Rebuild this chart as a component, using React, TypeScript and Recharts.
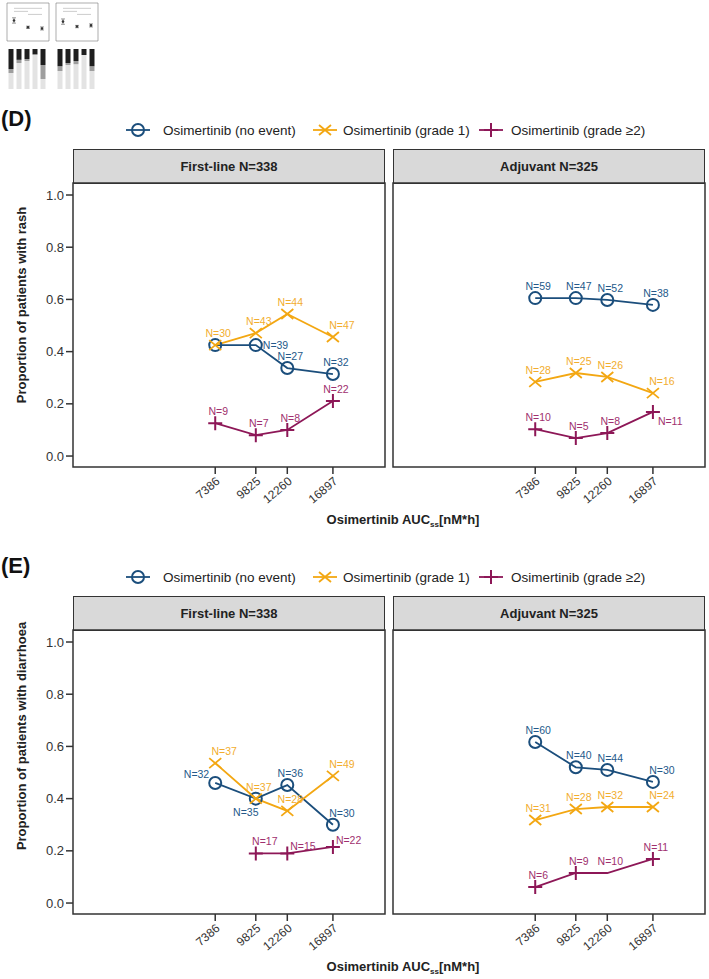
import React from "react";
import {
  LineChart,
  Line,
  XAxis,
  YAxis,
  ReferenceArea,
  ReferenceLine,
  LabelList,
  ComposedChart,
  Scatter,
  ErrorBar,
  BarChart,
  Bar,
} from "recharts";

// AUCss quartile medians (x axis, log scale)
const AUC_TICKS = [7386, 9825, 12260, 16897];
const AUC_DOMAIN = [2717, 24370];
const Y_DOMAIN = [-0.042, 1.046];
const Y_TICKS = [0, 0.2, 0.4, 0.6, 0.8, 1.0];

// (D) rash, first-line
const rashFirstNoEvent = [0.425, 0.425, 0.337, 0.314];
const rashFirstGrade1 = [0.425, 0.471, 0.544, 0.456];
const rashFirstGrade2 = [0.126, 0.08, 0.1, 0.211];
const rashFirstNNoEvent = [30, 39, 27, 32];
const rashFirstNGrade1 = [30, 43, 44, 47];
const rashFirstNGrade2 = [9, 7, 8, 22];

// (D) rash, adjuvant
const rashAdjNoEvent = [0.605, 0.605, 0.598, 0.579];
const rashAdjGrade1 = [0.284, 0.318, 0.303, 0.241];
const rashAdjGrade2 = [0.103, 0.069, 0.088, 0.169];
const rashAdjNNoEvent = [59, 47, 52, 38];
const rashAdjNGrade1 = [28, 25, 26, 16];
const rashAdjNGrade2 = [10, 5, 8, 11];

// (E) diarrhoea, first-line
const diaFirstNoEvent = [0.46, 0.4, 0.452, 0.3];
const diaFirstGrade1 = [0.536, 0.4, 0.353, 0.487];
const diaFirstGrade2 = [null, 0.19, 0.19, 0.215];
const diaFirstNNoEvent = [32, 35, 36, 30];
const diaFirstNGrade1 = [37, 37, 28, 49];
const diaFirstNGrade2 = [null, 17, 15, 22];

// (E) diarrhoea, adjuvant
const diaAdjNoEvent = [0.617, 0.52, 0.51, 0.464];
const diaAdjGrade1 = [0.318, 0.36, 0.368, 0.368];
const diaAdjGrade2 = [0.061, 0.115, 0.115, 0.169];
const diaAdjNNoEvent = [60, 40, 44, 30];
const diaAdjNGrade1 = [31, 28, 32, 24];
const diaAdjNGrade2 = [6, 9, 10, 11];

// thumbnail of panels A-C (too small to read)
const thumbGroups = [1, 2, 3];
const thumbLeftMean = [0.54, 0.36, 0.33];
const thumbRightMean = [0.51, 0.38, 0.41];
const thumbErr = [0.07, 0.03, 0.04];
const thumbBars = [1, 2, 3, 4, 5];
const thumbLeftLow = [0.4, 0.65, 0.7, 0.85, 0.25];
const thumbLeftMid = [0.1, 0.08, 0.05, 0.02, 0.35];
const thumbLeftHigh = [0.5, 0.27, 0.25, 0.13, 0.4];
const thumbRightLow = [0.45, 0.6, 0.62, 0.85, 0.45];
const thumbRightMid = [0.12, 0.05, 0.08, 0.0, 0.12];
const thumbRightHigh = [0.43, 0.35, 0.3, 0.15, 0.43];

// label placement per point (style only); "-" = label not shown, marker kept
const rashFirstPlace = { noEvent: ["-", "r", "t", "t"], grade1: ["t", "t", "t", "tr"], grade2: ["t", "t", "t", "t"] };
const rashAdjPlace = { noEvent: ["t", "t", "t", "t"], grade1: ["t", "t", "t", "tr"], grade2: ["t", "t", "t", "br"] };
const diaFirstPlace = { noEvent: ["tl", "bl", "t", "tr"], grade1: ["tr", "t", "t", "tr"], grade2: ["t", "tr", "rt", "rt"] };
const diaAdjPlace = { noEvent: ["t", "t", "t", "tr"], grade1: ["t", "t", "t", "tr"], grade2: ["t", "t", "t", "t"] };
// points drawn without a marker in the original
const diaAdjNoMarker = { grade2: [2] };

const FONT = "'Liberation Sans', Arial, Helvetica, sans-serif";
const INK = "#333";

const SERIES = [
  { key: "noEvent", nKey: "nNoEvent", name: "Osimertinib (no event)", color: "#1b4e7c", text: "#24598a", marker: "circle" },
  { key: "grade1", nKey: "nGrade1", name: "Osimertinib (grade 1)", color: "#f3a712", text: "#f2ad2e", marker: "x" },
  { key: "grade2", nKey: "nGrade2", name: "Osimertinib (grade \u22652)", color: "#8d1757", text: "#a0306e", marker: "plus" },
];

const PLACE: Record<string, { dx: number; dy: number; anchor: string }> = {
  t: { dx: 3, dy: -8, anchor: "middle" },
  tr: { dx: 9, dy: -8, anchor: "middle" },
  r: { dx: 7, dy: 4, anchor: "start" },
  rt: { dx: 3, dy: -3, anchor: "start" },
  br: { dx: 5, dy: 13, anchor: "start" },
  bl: { dx: -10, dy: 17, anchor: "middle" },
  tl: { dx: -6, dy: -5, anchor: "end" },
};

function buildRows(noEvent, grade1, grade2, nNoEvent, nGrade1, nGrade2) {
  return AUC_TICKS.map((auc, i) => ({
    auc,
    noEvent: noEvent[i],
    grade1: grade1[i],
    grade2: grade2[i],
    nNoEvent: nNoEvent[i],
    nGrade1: nGrade1[i],
    nGrade2: nGrade2[i],
  }));
}

function Marker({ cx, cy, kind, color }) {
  if (cx == null || cy == null) return null;
  if (kind === "circle") {
    return <circle cx={cx} cy={cy} r={6} fill="none" stroke={color} strokeWidth={2} />;
  }
  if (kind === "x") {
    return (
      <path
        d={`M${cx - 6},${cy - 5}L${cx + 6},${cy + 5}M${cx - 6},${cy + 5}L${cx + 6},${cy - 5}`}
        stroke={color}
        strokeWidth={1.8}
        fill="none"
      />
    );
  }
  return (
    <path
      d={`M${cx - 7},${cy}L${cx + 7},${cy}M${cx},${cy - 7}L${cx},${cy + 7}`}
      stroke={color}
      strokeWidth={2}
      fill="none"
    />
  );
}

const PLOT_W = 312;
const PLOT_H = 284;
const HEADER_H = 34;

function Facet({ plotLeft, plotTop, title, rows, place, noMarker = {}, showY }) {
  const yW = showY ? 71 : 0;
  const chartLeft = plotLeft - yW - 2;
  return (
    <>
      <div
        style={{
          position: "absolute",
          left: plotLeft,
          top: plotTop - HEADER_H,
          width: PLOT_W,
          height: HEADER_H + 1,
          boxSizing: "border-box",
          border: `1.5px solid ${INK}`,
          background: "#d9d9d9",
          display: "flex",
          alignItems: "center",
          justifyContent: "center",
          fontWeight: "bold",
          fontSize: 13,
          color: "#222",
        }}
      >
        {title}
      </div>
      <div style={{ position: "absolute", left: chartLeft, top: plotTop - 2 }}>
        <LineChart
          width={yW + 2 + PLOT_W + 4}
          height={2 + PLOT_H + 70}
          data={rows}
          margin={{ top: 2, right: 4, left: 2, bottom: 0 }}
        >
          <XAxis
            dataKey="auc"
            type="number"
            scale="log"
            domain={AUC_DOMAIN}
            allowDataOverflow
            ticks={AUC_TICKS}
            interval={0}
            height={70}
            axisLine={false}
            tickSize={7}
            tickLine={{ stroke: INK, strokeWidth: 1.5 }}
            angle={-40}
            textAnchor="end"
            tick={{ fontSize: 12, fill: INK, fontFamily: FONT }}
          />
          <YAxis
            type="number"
            domain={Y_DOMAIN}
            allowDataOverflow
            ticks={Y_TICKS}
            tickFormatter={(v) => Number(v).toFixed(1)}
            width={yW}
            hide={!showY}
            axisLine={false}
            tickSize={7}
            tickLine={{ stroke: INK, strokeWidth: 1.5 }}
            tick={{ fontSize: 13, fill: INK, fontFamily: FONT }}
          />
          <ReferenceArea
            x1={AUC_DOMAIN[0]}
            x2={AUC_DOMAIN[1]}
            y1={Y_DOMAIN[0]}
            y2={Y_DOMAIN[1]}
            fill="none"
            stroke={INK}
            strokeWidth={1.5}
            ifOverflow="visible"
          />
          {SERIES.map((s) => (
            <Line
              key={s.key}
              dataKey={s.key}
              stroke={s.color}
              strokeWidth={1.8}
              isAnimationActive={false}
              activeDot={false}
              dot={(p) =>
                (noMarker[s.key] || []).includes(p.index) ? (
                  <g key={`${s.key}-${p.index}`} />
                ) : (
                  <Marker key={`${s.key}-${p.index}`} cx={p.cx} cy={p.cy} kind={s.marker} color={s.color} />
                )
              }
            >
              <LabelList
                dataKey={s.nKey}
                content={(p) => {
                  if (p.value == null || p.x == null) return null;
                  const key = place[s.key][p.index];
                  if (key === "-") return null;
                  const pl = PLACE[key] || PLACE.t;
                  return (
                    <text
                      x={Number(p.x) + pl.dx}
                      y={Number(p.y) + pl.dy}
                      textAnchor={pl.anchor}
                      fontSize={10.5}
                      fontFamily={FONT}
                      fill={s.text}
                    >
                      {`N=${p.value}`}
                    </text>
                  );
                }}
              />
            </Line>
          ))}
        </LineChart>
      </div>
    </>
  );
}

function LegendRow({ top }) {
  const items = [
    { s: SERIES[0], icon: 138, text: 163 },
    { s: SERIES[1], icon: 325, text: 343 },
    { s: SERIES[2], icon: 491, text: 511 },
  ];
  return (
    <svg style={{ position: "absolute", left: 0, top: top - 10 }} width={709} height={20}>
      {items.map(({ s, icon, text }) => (
        <g key={s.key}>
          <line x1={icon - 12} x2={icon + 12} y1={10} y2={10} stroke={s.color} strokeWidth={1.8} />
          <Marker cx={icon} cy={10} kind={s.marker} color={s.color} />
          <text x={text} y={14.5} fontSize={13.5} fontFamily={FONT} fill="#222">
            {s.name}
          </text>
        </g>
      ))}
    </svg>
  );
}

function Block({ offset, label, yLabel, yLabelY, first, adj, placeFirst, placeAdj, noMarkerAdj }) {
  const plotTop = 183 + offset;
  return (
    <>
      <div
        style={{ position: "absolute", left: 1, top: 106 + offset, fontSize: 22, fontWeight: "bold", color: "#111" }}
      >
        {label}
      </div>
      <LegendRow top={130 + offset} />
      <Facet plotLeft={73} plotTop={plotTop} title="First-line N=338" rows={first} place={placeFirst} showY />
      <Facet
        plotLeft={393}
        plotTop={plotTop}
        title="Adjuvant N=325"
        rows={adj}
        place={placeAdj}
        noMarker={noMarkerAdj}
        showY={false}
      />
      <svg style={{ position: "absolute", left: 0, top: 0, pointerEvents: "none" }} width={709} height={979}>
        <text
          transform={`translate(26, ${yLabelY + offset}) rotate(-90)`}
          textAnchor="middle"
          fontSize={13}
          fontWeight="bold"
          fontFamily={FONT}
          fill="#222"
        >
          {yLabel}
        </text>
        <text x={403} y={524 + offset} textAnchor="middle" fontSize={13} fontWeight="bold" fontFamily={FONT} fill="#222">
          Osimertinib AUC
          <tspan fontSize={8} dy={3}>ss</tspan>
          <tspan dy={-3}>[nM*h]</tspan>
        </text>
      </svg>
    </>
  );
}

function ThumbScatter({ left, means }) {
  const rows = thumbGroups.map((g, i) => ({ g, m: means[i], err: thumbErr[i] }));
  return (
    <div style={{ position: "absolute", left, top: 2 }}>
      <ComposedChart width={44} height={40} data={rows} margin={{ top: 1, right: 1, left: 1, bottom: 1 }}>
        <XAxis dataKey="g" type="number" domain={[0.5, 3.5]} hide />
        <YAxis type="number" domain={[0, 1]} hide />
        <ReferenceArea x1={0.5} x2={3.5} y1={0} y2={1} fill="none" stroke="#777" strokeWidth={0.6} ifOverflow="visible" />
        <ReferenceLine segment={[{ x: 1, y: 0.78 }, { x: 2, y: 0.78 }]} stroke="#999" strokeWidth={0.5} />
        <ReferenceLine segment={[{ x: 1, y: 0.86 }, { x: 3, y: 0.86 }]} stroke="#999" strokeWidth={0.5} />
        <ReferenceLine segment={[{ x: 2, y: 0.7 }, { x: 3, y: 0.7 }]} stroke="#999" strokeWidth={0.5} />
        <Scatter
          dataKey="m"
          isAnimationActive={false}
          shape={(p) => <circle cx={p.cx} cy={p.cy} r={1.3} fill="#333" />}
        >
          <ErrorBar dataKey="err" direction="y" width={2} stroke="#555" strokeWidth={0.6} />
        </Scatter>
      </ComposedChart>
    </div>
  );
}

function ThumbBars({ left, low, mid, high }) {
  const rows = thumbBars.map((b, i) => ({ b, low: low[i], mid: mid[i], high: high[i] }));
  return (
    <div style={{ position: "absolute", left, top: 48 }}>
      <BarChart width={44} height={42} data={rows} margin={{ top: 1, right: 1, left: 3, bottom: 1 }} barCategoryGap={1.5}>
        <XAxis dataKey="b" hide />
        <YAxis type="number" domain={[0, 1]} hide />
        <Bar dataKey="low" stackId="s" fill="#e3e3e3" isAnimationActive={false} />
        <Bar dataKey="mid" stackId="s" fill="#9e9e9e" isAnimationActive={false} />
        <Bar dataKey="high" stackId="s" fill="#1e1e1e" isAnimationActive={false} />
      </BarChart>
    </div>
  );
}

export default function App() {
  const rashFirst = buildRows(rashFirstNoEvent, rashFirstGrade1, rashFirstGrade2, rashFirstNNoEvent, rashFirstNGrade1, rashFirstNGrade2);
  const rashAdj = buildRows(rashAdjNoEvent, rashAdjGrade1, rashAdjGrade2, rashAdjNNoEvent, rashAdjNGrade1, rashAdjNGrade2);
  const diaFirst = buildRows(diaFirstNoEvent, diaFirstGrade1, diaFirstGrade2, diaFirstNNoEvent, diaFirstNGrade1, diaFirstNGrade2);
  const diaAdj = buildRows(diaAdjNoEvent, diaAdjGrade1, diaAdjGrade2, diaAdjNNoEvent, diaAdjNGrade1, diaAdjNGrade2);

  return (
    <div
      style={{
        position: "absolute",
        left: 0,
        top: 0,
        width: 709,
        height: 979,
        background: "#fff",
        fontFamily: FONT,
        overflow: "hidden",
      }}
    >
      <ThumbScatter left={6} means={thumbLeftMean} />
      <ThumbScatter left={55} means={thumbRightMean} />
      <ThumbBars left={4} low={thumbLeftLow} mid={thumbLeftMid} high={thumbLeftHigh} />
      <ThumbBars left={53} low={thumbRightLow} mid={thumbRightMid} high={thumbRightHigh} />

      <Block
        offset={0}
        label="(D)"
        yLabel="Proportion of patients with rash"
        yLabelY={305}
        first={rashFirst}
        adj={rashAdj}
        placeFirst={rashFirstPlace}
        placeAdj={rashAdjPlace}
      />
      <Block
        offset={447}
        label="(E)"
        yLabel="Proportion of patients with diarrhoea"
        yLabelY={289}
        first={diaFirst}
        adj={diaAdj}
        placeFirst={diaFirstPlace}
        placeAdj={diaAdjPlace}
        noMarkerAdj={diaAdjNoMarker}
      />
    </div>
  );
}
